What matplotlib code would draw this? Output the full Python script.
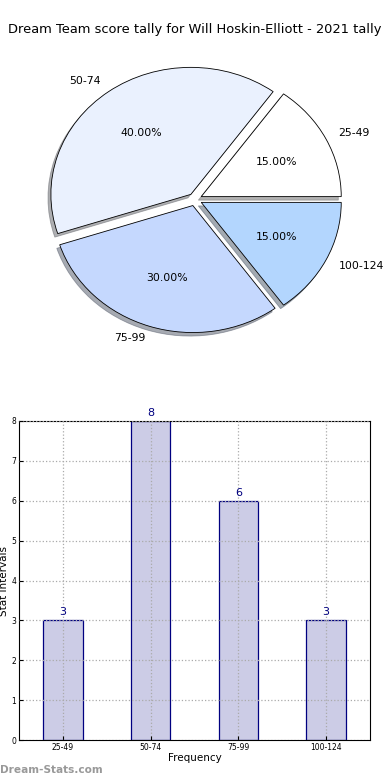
import matplotlib
matplotlib.use("Agg")
import matplotlib.pyplot as plt

title = "Dream Team score tally for Will Hoskin-Elliott - 2021 tally"
categories = ["25-49", "50-74", "75-99", "100-124"]
counts = [3, 8, 6, 3]
pie_colors = ["#FFFFFF", "#EAF1FE", "#C5D8FE", "#B3D6FE"]

fig = plt.figure(figsize=(3.9, 7.8), dpi=100)
fig.text(0.5, 1 - 30 / 780, title, ha="center", va="center", fontsize=9.4)

# Pie
cx, cy, sx, sy = 195, 199.5, 140, 127
lim = 1.25
axp = fig.add_axes([(cx - lim * sx) / 390, 1 - (cy + lim * sy) / 780,
                    2 * lim * sx / 390, 2 * lim * sy / 780])
wedges, texts, autotexts = axp.pie(
    counts, labels=categories, colors=pie_colors, explode=[0.05] * 4,
    autopct="%.2f%%", shadow={"ox": -0.015, "oy": -0.02, "shade": 0.6},
    startangle=0, counterclock=True,
    labeldistance=1.1, pctdistance=0.6,
    wedgeprops=dict(edgecolor="black", linewidth=0.6),
    textprops=dict(fontsize=7.8))
axp.set_aspect("auto")
axp.set_xlim(-lim, lim)
axp.set_ylim(-lim, lim)

# Bar chart
axb = fig.add_axes([19 / 390, 1 - 740 / 780, 351 / 390, 319 / 780])
x = list(range(len(categories)))
bars = axb.bar(x, counts, width=0.45, color="#CCCCE6", edgecolor="#000080", linewidth=0.9)
for xi, c in zip(x, counts):
    axb.text(xi, c + 0.08, str(c), ha="center", va="bottom", color="#000080", fontsize=8)
axb.set_xlim(-0.5, 3.5)
axb.set_ylim(0, 8)
axb.set_xticks(x)
axb.set_xticklabels(categories, fontsize=5.5)
axb.set_yticks(range(0, 9))
axb.tick_params(axis="y", labelsize=5.5, length=3, direction="in", pad=2)
axb.tick_params(axis="x", length=3, direction="in", pad=2)
axb.set_axisbelow(False)
axb.grid(True, linestyle=":", color="#AAAAAA", linewidth=0.9)
axb.set_xlabel("Frequency", fontsize=7.5, labelpad=1)
axb.set_ylabel("Stat Intervals", fontsize=7.5, labelpad=2)
fig.text(0.0, 1 - 770 / 780, "Dream-Stats.com", ha="left", va="center",
         fontsize=7.6, color="#999999", fontweight="bold")

fig.savefig("out.png", dpi=100)
